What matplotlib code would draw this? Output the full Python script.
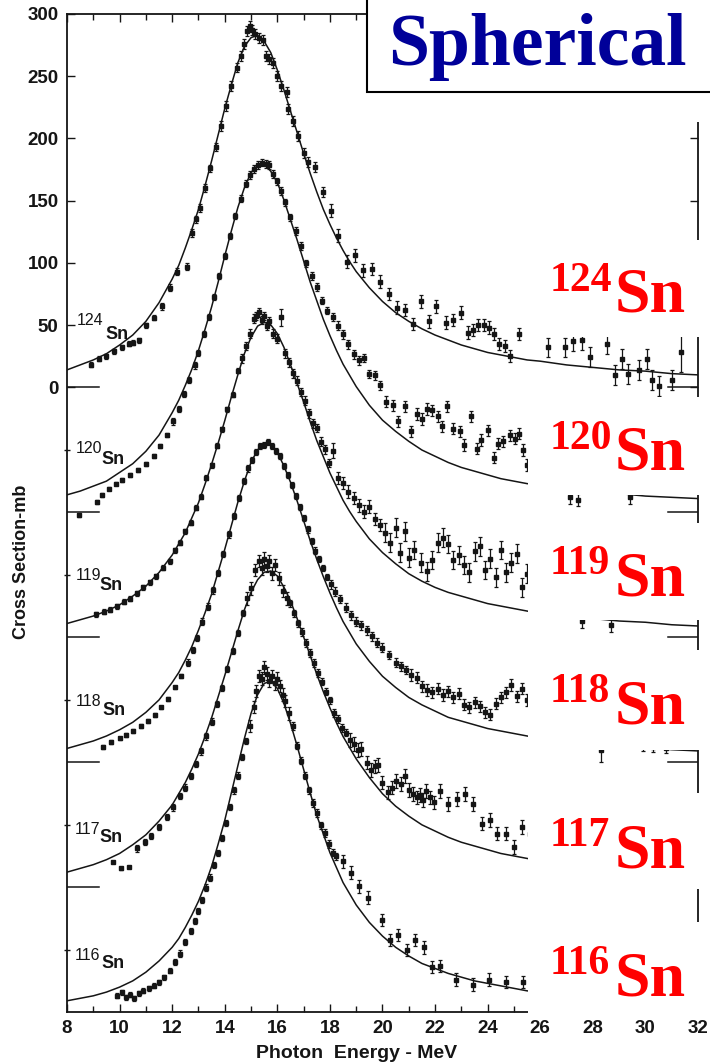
import matplotlib
matplotlib.use("Agg")
import matplotlib.pyplot as plt
from matplotlib.patches import Rectangle
import numpy as np

W, H = 710, 1064

# ── isotopes, vertical offsets of each spectrum (mb) ─────────────────────────
ISOTOPES = ["124", "120", "119", "118", "117", "116"]
OFFSETS = [0, -100.4, -200.8, -301.2, -401.6, -502]

# ── fitted curves ───────────────────────────────────────────────────────────
CURVE_E = [8, 8.5, 9, 9.5, 10, 10.5, 11, 11.5,
           12, 12.25, 12.5, 12.75, 13, 13.25, 13.5, 13.75, 14, 14.25, 14.5, 14.75,
           15, 15.25, 15.5, 15.75, 16, 16.25, 16.5, 16.75, 17, 17.25, 17.5, 17.75,
           18, 18.25, 18.5, 18.75,
           19, 19.5, 20, 20.5, 21, 21.5, 22, 22.5, 23, 23.5, 24, 24.5, 25, 25.5,
           26, 27, 28, 29, 30, 31, 32]
CURVE_124 = [14, 18, 22, 27, 34, 42, 53, 68, 87, 98, 112, 127, 143, 162, 182, 203, 224, 243, 261, 274,
             281, 283, 278, 269, 255, 239, 222, 205, 188, 172, 157, 143, 131, 120, 110, 101,
             93, 80, 69, 60, 53, 47, 42, 38, 34, 31, 28, 26, 24, 22, 21, 18, 16, 14, 13, 11, 10]
CURVE_120 = [14, 17, 21, 25, 32, 39, 49, 62, 80, 90, 102, 115, 130, 147, 165, 185, 206, 226, 245, 261,
             273, 279, 280, 274, 265, 251, 235, 219, 202, 185, 170, 155, 142, 130, 119, 110,
             101, 86, 74, 65, 57, 50, 45, 40, 36, 33, 30, 27, 25, 23, 22, 19, 17, 15, 13, 12, 11]
CURVE_119 = [11, 14, 17, 21, 26, 33, 41, 52, 66, 75, 84, 96, 108, 123, 139, 156, 174, 193, 211, 228,
             241, 250, 253, 251, 244, 233, 219, 204, 189, 173, 158, 145, 132, 121, 110, 101,
             93, 79, 68, 59, 51, 45, 40, 36, 33, 30, 27, 25, 23, 21, 19, 17, 15, 13, 12, 10, 9]
CURVE_118 = [11, 14, 17, 21, 26, 32, 40, 50, 64, 72, 82, 93, 106, 120, 135, 153, 171, 190, 209, 226,
             241, 251, 256, 255, 249, 238, 225, 210, 194, 178, 163, 149, 136, 124, 113, 104,
             95, 81, 69, 60, 52, 46, 41, 36, 33, 30, 27, 25, 23, 21, 19, 17, 15, 13, 12, 10, 9]
CURVE_117 = [12, 15, 18, 22, 27, 34, 42, 53, 66, 75, 84, 95, 107, 121, 136, 153, 170, 188, 206, 223,
             237, 247, 253, 254, 250, 241, 230, 216, 201, 186, 171, 157, 144, 132, 121, 112,
             103, 88, 75, 65, 57, 50, 45, 40, 36, 33, 30, 27, 25, 23, 21, 18, 16, 14, 13, 11, 10]
CURVE_116 = [9, 11, 13, 16, 20, 25, 32, 41, 52, 59, 68, 78, 89, 102, 117, 135, 154, 176, 198, 220,
             240, 255, 264, 266, 260, 248, 232, 214, 195, 176, 158, 143, 128, 116, 104, 95,
             86, 72, 61, 52, 45, 39, 35, 31, 28, 25, 23, 21, 19, 17, 16, 14, 12, 11, 9, 8, 8]

# ── measured points: energy (MeV), cross section (mb), error (mb) ───────────
E_124 = [8.9, 9.2, 9.5, 9.8, 10.1, 10.35, 10.5, 10.75, 11.0, 11.3, 11.6, 11.9, 12.2, 12.55, 12.75,
         12.9, 13.05, 13.25, 13.45, 13.65, 13.85, 14.05, 14.25, 14.45, 14.6, 14.75, 14.85, 14.95,
         15.05, 15.15, 15.3, 15.45, 15.55, 15.7, 15.85, 16.0, 16.15, 16.35, 16.4, 16.6, 16.8,
         17.0, 17.15, 17.45, 17.75, 18.05, 18.3, 18.65, 18.95, 19.25, 19.6, 19.9, 20.25, 20.55,
         20.85, 21.15, 21.45, 21.75, 22.05, 22.4, 22.7, 23.0, 23.25, 23.45, 23.65, 23.85, 24.05,
         24.25, 24.45, 24.65, 24.85, 25.2, 26.3, 26.95, 27.25, 27.6, 27.9, 28.55, 28.85, 29.1,
         29.35, 29.75, 30.05, 30.25, 30.5, 31.0, 31.35]
S_124 = [18, 23, 25, 29, 32, 35, 36, 38, 50, 56, 65, 80, 93, 97, 124, 135, 144, 160, 176, 193,
         210, 226, 242, 257, 266, 276, 286, 290, 287, 284, 281, 279, 266, 264, 261, 250, 242, 237,
         224, 214, 202, 188, 181, 177, 157, 142, 122, 101, 106, 94, 95, 85, 75, 64, 62, 51, 69, 53,
         65, 52, 54, 60, 44, 46, 50, 50, 48, 43, 35, 33, 25, 43, 32, 32, 37, 38, 24, 35, 10, 23,
         11, 14, 23, 6, 1, 6, 28]
D_124 = [2, 2, 2, 2, 2, 2, 2, 2, 2, 2, 3, 3, 3, 3, 3, 3, 3, 3, 3, 3, 4, 4, 4, 4, 4, 4, 4, 4, 4, 4,
         4, 4, 4, 4, 4, 4, 4, 4, 4, 4, 4, 4, 4, 4, 4, 5, 5, 5, 5, 5, 5, 5, 5, 5, 5, 5, 5, 5, 5, 5,
         5, 5, 5, 5, 5, 5, 5, 5, 5, 5, 5, 5, 8, 8, 8, 8, 8, 8, 8, 8, 8, 8, 8, 8, 8, 8, 16]

E_120 = [8.45, 9.15, 9.35, 9.6, 9.85, 10.1, 10.4, 10.7, 11.0, 11.3, 11.55, 11.8, 12.05, 12.25,
         12.45, 12.65, 12.85, 13.0, 13.2, 13.4, 13.6, 13.8, 14.0, 14.2, 14.4, 14.6, 14.8, 14.95,
         15.1, 15.25, 15.4, 15.55, 15.7, 15.85, 16.0, 16.15, 16.3, 16.5, 16.7, 16.9, 17.1, 17.3,
         17.5, 17.7, 17.9, 18.1, 18.3, 18.5, 18.7, 18.9, 19.1, 19.3, 19.5, 19.7, 19.9, 20.15,
         20.4, 20.6, 20.85, 21.1, 21.3, 21.5, 21.7, 21.9, 22.1, 22.25, 22.45, 22.7, 22.95, 23.1,
         23.35, 23.6, 23.75, 24.0, 24.25, 24.4, 24.6, 24.85, 25.05, 25.2, 25.35, 25.5, 27.15,
         27.45, 29.4]
S_120 = [-2, 8, 14, 19, 23, 26, 30, 34, 39, 45, 53, 62, 73, 83, 95, 106, 118, 128, 143, 157,
         173, 190, 206, 222, 238, 252, 264, 271, 276, 279, 281, 280, 279, 272, 266, 258, 249, 237,
         226, 214, 200, 190, 181, 170, 162, 157, 150, 143, 135, 127, 122, 124, 111, 110, 102, 89,
         86, 73, 85, 65, 79, 75, 83, 82, 77, 69, 85, 67, 65, 54, 77, 51, 58, 66, 44, 55, 57, 62,
         59, 63, 50, 38, 12, 10, 12]
D_120 = [1.5, 1.5, 1.5, 1.5, 1.5, 1.5, 1.5, 1.5, 1.5, 1.5, 1.5, 1.5, 2.5, 2.5, 2.5, 2.5, 2.5,
         2.5, 2.5, 2.5, 2.5, 2.5, 2.5, 2.5, 2.5, 3, 3, 3, 3, 3, 3, 3, 3, 3, 3, 3, 3, 3, 3, 3, 3,
         3, 3, 3, 3, 3.5, 3.5, 3.5, 3.5, 3.5, 3.5, 3.5, 3.5, 3.5, 3.5, 4.5, 4.5, 4.5, 4.5, 4.5,
         4.5, 4.5, 4.5, 4.5, 4.5, 4.5, 4.5, 4.5, 4.5, 4.5, 4.5, 4.5, 4.5, 4.5, 4.5, 4.5, 4.5,
         4.5, 4.5, 4.5, 4.5, 4.5, 5, 5, 5]

E_119 = [9.1, 9.4, 9.65, 9.9, 10.15, 10.4, 10.65, 10.9, 11.15, 11.4, 11.65, 11.9, 12.1, 12.3,
         12.5, 12.7, 12.9, 13.1, 13.3, 13.5, 13.7, 13.9, 14.1, 14.3, 14.5, 14.65, 14.8, 14.95,
         15.1, 15.2, 15.3, 15.4, 15.5, 15.6, 15.7, 15.85, 16.0, 16.15, 16.3, 16.45, 16.6, 16.75,
         16.9, 17.05, 17.2, 17.35, 17.5, 17.65, 17.8, 17.95, 18.1, 18.3, 18.5, 18.7, 18.9, 19.1,
         19.3, 19.5, 19.7, 19.9, 20.1, 20.3, 20.5, 20.65, 20.85, 21.0, 21.2, 21.45, 21.7, 21.9,
         22.1, 22.3, 22.5, 22.7, 22.9, 23.1, 23.3, 23.5, 23.7, 23.9, 24.1, 24.3, 24.5, 24.7,
         24.9, 25.1, 25.3, 25.5, 27.6, 28.7]
S_119 = [18.5, 20.5, 22, 25, 28.5, 31, 35.5, 40, 44, 49, 56, 61, 70, 76, 85, 92, 104, 113, 128,
         138, 154, 167, 183, 195, 214, 224, 234, 244, 256, 258, 261, 255, 258, 250, 254, 244, 240,
         257, 228, 221, 212, 206, 197, 190, 180, 172, 168, 157, 151, 140, 150, 128, 124, 117, 112,
         106, 101, 105, 95, 90, 84, 76, 88, 68, 85, 64, 70, 60, 53, 62, 76, 80, 75, 62, 66, 58,
         52, 69, 73, 54, 63, 48, 70, 52, 60, 67, 40, 51, 13, 10]
D_119 = [2, 2, 2, 2, 2, 2, 2, 2, 2, 2, 2, 2, 2, 2, 2, 2, 2, 2, 2, 2, 2, 2, 2, 2, 2, 3.5, 3.5,
         3.5, 3.5, 3.5, 3.5, 3.5, 3.5, 3.5, 3.5, 3.5, 3.5, 7, 3.5, 3.5, 3.5, 3.5, 3.5, 3.5, 3.5,
         3.5, 3.5, 3.5, 3.5, 3.5, 6, 5, 5, 5, 5, 5, 5, 5, 5, 5, 7.5, 7.5, 7.5, 7.5, 7.5, 7.5,
         7.5, 7.5, 7.5, 7.5, 7.5, 7.5, 7.5, 7.5, 7.5, 7.5, 7.5, 7.5, 7.5, 7.5, 7.5, 7.5, 7.5,
         7.5, 7.5, 7.5, 7.5, 7.5, 6, 6]

E_118 = [9.36, 9.68, 10.0, 10.25, 10.5, 10.8, 11.07, 11.33, 11.58, 11.84, 12.09, 12.34, 12.6,
         12.79, 12.95, 13.15, 13.35, 13.55, 13.75, 13.95, 14.15, 14.35, 14.55, 14.75, 14.9, 15.05,
         15.2, 15.35, 15.5, 15.65, 15.8, 15.95, 16.1, 16.25, 16.4, 16.55, 16.7, 16.85, 17.0,
         17.15, 17.3, 17.45, 17.6, 17.75, 17.9, 18.05, 18.2, 18.4, 18.6, 18.8, 19.0, 19.2, 19.4,
         19.6, 19.8, 20.0, 20.25, 20.5, 20.7, 20.9, 21.1, 21.3, 21.5, 21.7, 21.9, 22.1, 22.3,
         22.5, 22.7, 22.9, 23.1, 23.3, 23.5, 23.7, 23.9, 24.1, 24.3, 24.5, 24.7, 24.9, 25.1,
         25.3, 25.5, 28.3, 29.9, 30.3, 30.8]
S_118 = [12, 16, 19, 22, 25, 29, 33, 38, 44, 51, 60, 69, 80, 90, 100, 113, 125, 138, 152, 167,
         183, 198, 212, 226, 236, 243, 249, 254, 255, 257, 254, 250, 246, 238, 231, 223, 214, 205,
         196, 187, 178, 170, 163, 156, 149, 143, 137, 131, 124, 118, 113, 110, 106, 101, 96, 92,
         86, 80, 77, 74, 70, 68, 61, 58, 56, 59, 54, 57, 52, 55, 46, 44, 48, 45, 40, 38, 47, 52,
         56, 62, 53, 59, 50, 10, 13, 12, 11]
D_118 = [1.5, 1.5, 1.5, 1.5, 1.5, 1.5, 1.5, 1.5, 1.5, 1.5, 1.5, 1.5, 2.5, 2.5, 2.5, 2.5, 2.5,
         2.5, 2.5, 2.5, 2.5, 2.5, 2.5, 2.5, 2.5, 2.5, 2.5, 2.5, 2.5, 2.5, 2.5, 2.5, 2.5, 2.5,
         2.5, 2.5, 2.5, 2.5, 2.5, 2.5, 2.5, 2.5, 2.5, 2.5, 2.5, 3.5, 3.5, 3.5, 3.5, 3.5, 3.5,
         3.5, 3.5, 3.5, 3.5, 3.5, 3.5, 3.5, 3.5, 3.5, 4.5, 4.5, 4.5, 4.5, 4.5, 4.5, 4.5, 4.5,
         4.5, 4.5, 4.5, 4.5, 4.5, 4.5, 4.5, 4.5, 4.5, 4.5, 4.5, 4.5, 4.5, 4.5, 4.5, 10, 4, 4, 4]

E_117 = [9.74, 10.05, 10.37, 10.65, 10.95, 11.2, 11.5, 11.8, 12.05, 12.3, 12.5, 12.7, 12.9, 13.1,
         13.3, 13.5, 13.7, 13.9, 14.1, 14.3, 14.5, 14.7, 14.85, 15.0, 15.15, 15.3, 15.4, 15.5,
         15.6, 15.7, 15.8, 15.9, 16.05, 16.2, 16.35, 16.5, 16.65, 16.8, 16.95, 17.1, 17.25, 17.4,
         17.55, 17.7, 17.85, 18.0, 18.14, 18.3, 18.45, 18.6, 18.75, 18.9, 19.05, 19.2, 19.4,
         19.58, 19.7, 19.83, 20.0, 20.2, 20.35, 20.53, 20.7, 20.85, 21.0, 21.17, 21.3, 21.42,
         21.55, 21.67, 21.8, 21.95, 22.2, 22.5, 22.82, 23.13, 23.45, 23.77, 24.08, 24.37, 24.68,
         25.0, 25.3, 25.6, 28.2, 29.6, 30.0, 30.4]
S_117 = [20, 15, 16, 31, 36, 41, 48, 56, 64, 73, 80, 89, 99, 109, 121, 133, 147, 160, 175, 190,
         204, 220, 232, 240, 255, 262, 256, 264, 258, 262, 252, 259, 248, 238, 232, 228, 220, 212,
         205, 196, 188, 180, 172, 165, 157, 150, 140, 135, 128, 124, 118, 115, 110, 111, 100, 94,
         97, 98, 84, 76, 80, 85, 83, 89, 78, 75, 72, 74, 70, 77, 72, 68, 77, 67, 71, 75, 67, 51,
         54, 43, 43, 32, 48, 43, 16, 17, 16, 15]
D_117 = [1, 1, 1, 2.5, 2.5, 2.5, 2.5, 2.5, 2.5, 2.5, 2.5, 2.5, 2.5, 2.5, 2.5, 2.5, 2.5, 2.5,
         2.5, 2.5, 2.5, 2.5, 5, 5, 5, 5, 5, 5, 5, 5, 5, 5, 5, 5, 5, 3, 3, 3, 3, 3, 3, 3, 3, 3, 3,
         3, 3, 3, 3, 3, 5.5, 5.5, 5.5, 5.5, 5.5, 5.5, 5.5, 5.5, 5.5, 5.5, 5.5, 5.5, 5.5, 5.5,
         5.5, 5.5, 5.5, 5.5, 5.5, 5.5, 5.5, 5.5, 5.5, 5.5, 5.5, 5.5, 5.5, 5.5, 5.5, 5.5, 5.5,
         5.5, 5.5, 5.5, 10, 4, 4, 4]

E_116 = [9.9, 10.1, 10.25, 10.4, 10.55, 10.75, 10.9, 11.1, 11.3, 11.5, 11.7, 11.9, 12.1, 12.3,
         12.5, 12.7, 12.85, 13.0, 13.15, 13.3, 13.45, 13.6, 13.75, 13.9, 14.05, 14.2, 14.35, 14.5,
         14.65, 14.8, 14.95, 15.1, 15.2, 15.3, 15.4, 15.5, 15.6, 15.7, 15.8, 15.9, 16.0, 16.1,
         16.2, 16.3, 16.45, 16.6, 16.75, 16.9, 17.05, 17.2, 17.35, 17.5, 17.65, 17.8, 17.95, 18.1,
         18.25, 18.5, 18.8, 19.1, 19.45, 20.0, 20.3, 20.6, 20.93, 21.25, 21.57, 21.9, 22.2, 22.8,
         23.43, 24.06, 24.7, 25.33, 31.3]
S_116 = [13, 16, 12, 14, 11, 15, 17, 19, 21, 24, 28, 33, 40, 47, 56, 65, 73, 81, 90, 100, 108,
         118, 128, 140, 152, 165, 178, 190, 205, 218, 230, 245, 258, 270, 268, 277, 272, 266, 270,
         264, 268, 262, 255, 250, 240, 230, 214, 202, 190, 178, 168, 160, 150, 144, 135, 128, 125,
         121, 112, 101, 92, 74, 58, 62, 50, 58, 52, 36, 37, 26, 22, 26, 24, 24, 5]
D_116 = [2, 2, 2, 2, 2, 2, 2, 2, 2, 2, 2, 2, 2.5, 2.5, 2.5, 2.5, 2.5, 2.5, 2.5, 2.5, 2.5, 2.5,
         2.5, 2.5, 2.5, 2.5, 2.5, 2.5, 2.5, 2.5, 5, 5, 5, 5, 5, 5, 5, 5, 5, 5, 5, 5, 5, 5, 5, 3,
         3, 3, 3, 3, 3, 3, 3, 3, 3, 3, 3, 5, 5, 5, 5, 5, 5, 5, 5, 5, 5, 5, 5, 5, 5, 5, 5, 5, 5]

CURVES = [CURVE_124, CURVE_120, CURVE_119, CURVE_118, CURVE_117, CURVE_116]
DATA = [(E_124, S_124, D_124), (E_120, S_120, D_120), (E_119, S_119, D_119),
        (E_118, S_118, D_118), (E_117, S_117, D_117), (E_116, S_116, D_116)]

# ── layout (pixel positions in the 710x1064 picture) ─────────────────────────
SMALL_LABEL = [(8.38, 50, 9.45, 39), (8.35, 48, 9.3, 39), (8.33, 46, 9.22, 38),
               (8.35, 45, 9.35, 38), (8.3, 43, 9.25, 36), (8.3, 42, 9.3, 35)]
RIGHT_BASE = [312, 470, 595, 723, 867, 995]
MASKS = [(690, 712, 88, 122), (527, 712, 240, 337), (528, 712, 397, 495), (528, 567, 495, 523),
         (528, 712, 523, 620), (528, 563, 620, 650), (528, 712, 650, 750), (528, 590, 750, 793),
         (528, 712, 793, 889), (528, 640, 889, 922), (528, 712, 922, 1016)]
INK = "#151515"

fig = plt.figure(figsize=(W / 100, H / 100), dpi=100)
ax = fig.add_axes([67 / W, 1 - 1012 / H, 631 / W, 998 / H])
ax.set_xlim(8, 32)
ax.set_ylim(-502, 300)

for i, iso in enumerate(ISOTOPES):
    off = OFFSETS[i]
    ax.plot(CURVE_E, np.array(CURVES[i]) + off, color=INK, lw=1.1, zorder=2)
    e, s, d = DATA[i]
    ax.errorbar(e, np.array(s) + off, yerr=d, fmt="s", ms=2.8, mfc=INK, mec=INK,
                ecolor=INK, elinewidth=0.9, capsize=1.5, capthick=0.9, zorder=3)
    if i < 5:
        ax.plot([8, 9.2], [off, off], color=INK, lw=1.1)
        ax.plot([30.85, 32], [off, off], color=INK, lw=1.1)
    x1, y1, x2, y2 = SMALL_LABEL[i]
    ax.text(x1, off + y1, iso, fontsize=11.5, family="Liberation Sans", color=INK, va="baseline")
    ax.text(x2, off + y2, "Sn", fontsize=13, family="Liberation Sans", weight="bold",
            color=INK, va="baseline")

for sp in ax.spines.values():
    sp.set_color(INK)
    sp.set_linewidth(1.3)

ax.set_xticks(range(8, 33, 2))
ax.set_xticks(range(9, 32, 2), minor=True)
ax.set_yticks(range(0, 301, 50))
ax.set_yticks([off + 50 for off in OFFSETS[1:]], minor=True)
ax.tick_params(direction="in", top=True, right=True, length=6, width=1, color=INK, pad=6)
ax.tick_params(axis="x", which="minor", direction="in", top=True, length=4, width=1, color=INK)
ax.tick_params(axis="y", which="minor", direction="inout", right=False, length=4, width=1, color=INK)
for lab in ax.get_xticklabels() + ax.get_yticklabels():
    lab.set_fontweight("bold")
    lab.set_family("Liberation Sans")
    lab.set_fontsize(13.5)
    lab.set_color(INK)

# white patches that hide parts of the scanned graph
for x0, x1, y0, y1 in MASKS:
    fig.add_artist(Rectangle((x0 / W, 1 - y1 / H), (x1 - x0) / W, (y1 - y0) / H,
                             transform=fig.transFigure, facecolor="white", edgecolor="none", zorder=3))
fig.add_artist(Rectangle((367 / W, 1 - 92 / H), 360 / W, 110 / H, transform=fig.transFigure,
                         facecolor="white", edgecolor="black", lw=1.5, zorder=4))
fig.text(388 / W, 1 - 65 / H, "Spherical", fontsize=53, family="Liberation Serif",
         weight="bold", color="#000099", zorder=5)
for iso, yb in zip(ISOTOPES, RIGHT_BASE):
    fig.text(550 / W, 1 - (yb - 21) / H, iso, fontsize=30, family="Liberation Serif",
             weight="bold", color="#ff0000", zorder=5)
    fig.text(615 / W, 1 - yb / H, "Sn", fontsize=46, family="Liberation Serif",
             weight="bold", color="#ff0000", zorder=5)

fig.text(357 / W, 1 - 1058 / H, "Photon  Energy - MeV", fontsize=14, family="Liberation Sans",
         weight="bold", ha="center", color=INK)
fig.text(22 / W, 1 - 562 / H, "Cross Section-mb", fontsize=13, family="Liberation Sans",
         weight="bold", rotation=90, ha="center", va="center", color=INK)

fig.savefig("out.png", dpi=100, facecolor="white")
plt.close(fig)
